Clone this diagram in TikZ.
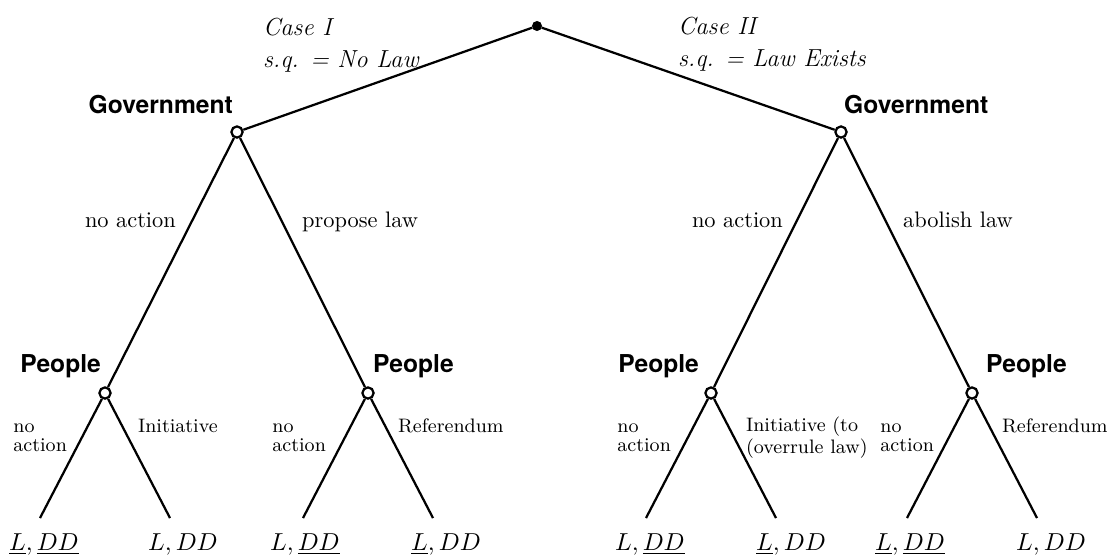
\documentclass[tikz,border=0pt]{standalone}
\usepackage{amsmath}
\usepackage{fontspec}
\newfontfamily\heros{TeX Gyre Heros}
\usetikzlibrary{positioning}

\begin{document}
\begin{tikzpicture}[x=0.4464pt,y=-0.4464pt,line width=1pt,
  choice node/.style={circle,fill=white,draw,inner sep=0pt,minimum size=5pt},
  start node/.style={circle,fill=black,draw,inner sep=0pt,minimum size=3.4pt},
  player/.style={font=\heros\bfseries\fontsize{11}{13}\selectfont,inner sep=0pt},
  move/.style={font=\fontsize{10}{12}\selectfont,inner sep=0pt},
  small move/.style={font=\fontsize{8.7}{8.5}\selectfont,align=left,inner sep=0pt},
  case/.style={font=\itshape\fontsize{11}{14.3}\selectfont,align=left,inner sep=0pt,anchor=north west},
  payoff/.style={font=\fontsize{11}{13}\selectfont,inner sep=0pt,anchor=base}]

  \useasboundingbox (0,0) rectangle (1107,558);

  \node[start node] (root) at (537,26) {};
  \node[choice node] (g1) at (237,132) {};
  \node[choice node] (g2) at (841,132) {};
  \node[choice node] (p1) at (105,393) {};
  \node[choice node] (p2) at (368,393) {};
  \node[choice node] (p3) at (711,393) {};
  \node[choice node] (p4) at (972,393) {};

  \coordinate (a1) at (40,518);
  \coordinate (a2) at (170,518);
  \coordinate (a3) at (303,518);
  \coordinate (a4) at (433,518);
  \coordinate (a5) at (646,518);
  \coordinate (a6) at (776,518);
  \coordinate (a7) at (907,518);
  \coordinate (a8) at (1037,518);

  \path (root) edge (g1)
               edge (g2)
        (g1) edge (p1)
             edge (p2)
        (g2) edge (p3)
             edge (p4)
        (p1) edge (a1)
             edge (a2)
        (p2) edge (a3)
             edge (a4)
        (p3) edge (a5)
             edge (a6)
        (p4) edge (a7)
             edge (a8);

  % cases
  \node[case] (case1) at (262,17) {Case I\\s.q. = No Law};
  \node[case] (case2) at (677,16) {Case II\\s.q. = Law Exists};

  % players
  \node[player,anchor=base east] (gov1) at (234,113) {Government};
  \node[player,anchor=base west] (gov2) at (843,113) {Government};
  \node[player,anchor=base east] (ppl1) at (102,372) {People};
  \node[player,anchor=base west] (ppl2) at (372,372) {People};
  \node[player,anchor=base east] (ppl3) at (700,372) {People};
  \node[player,anchor=base west] (ppl4) at (985,372) {People};

  % moves
  \node[move,anchor=base east] (m1) at (177,227) {no action};
  \node[move,anchor=base west] (m2) at (301,227) {propose law};
  \node[move,anchor=base east] (m3) at (784,227) {no action};
  \node[move,anchor=base west] (m4) at (902,227) {abolish law};

  \node[small move,anchor=north east] (s1) at (68,423) {no\\action};
  \node[small move,anchor=north west] (s2) at (137,418) {Initiative};
  \node[small move,anchor=north east] (s3) at (327,423) {no\\action};
  \node[small move,anchor=north west] (s4) at (397,418) {Referendum};
  \node[small move,anchor=north east] (s5) at (672,423) {no\\action};
  \node[small move,anchor=north west] (s6) at (745,416) {Initiative (to\\(overrule law)};
  \node[small move,anchor=north east] (s7) at (935,423) {no\\action};
  \node[small move,anchor=north west] (s8) at (1001,418) {Referendum};

  % payoffs
  \node[payoff] (l1) at (44,550) {$\underline{L}, \underline{DD}$};
  \node[payoff] (l2) at (183,550) {$L, DD$};
  \node[payoff] (l3) at (305,550) {$L, \underline{DD}$};
  \node[payoff] (l4) at (446,550) {$\underline{L}, DD$};
  \node[payoff] (l5) at (650,550) {$L, \underline{DD}$};
  \node[payoff] (l6) at (791,550) {$\underline{L}, DD$};
  \node[payoff] (l7) at (910,550) {$\underline{L}, \underline{DD}$};
  \node[payoff] (l8) at (1051,550) {$L, DD$};
\end{tikzpicture}
\end{document}
